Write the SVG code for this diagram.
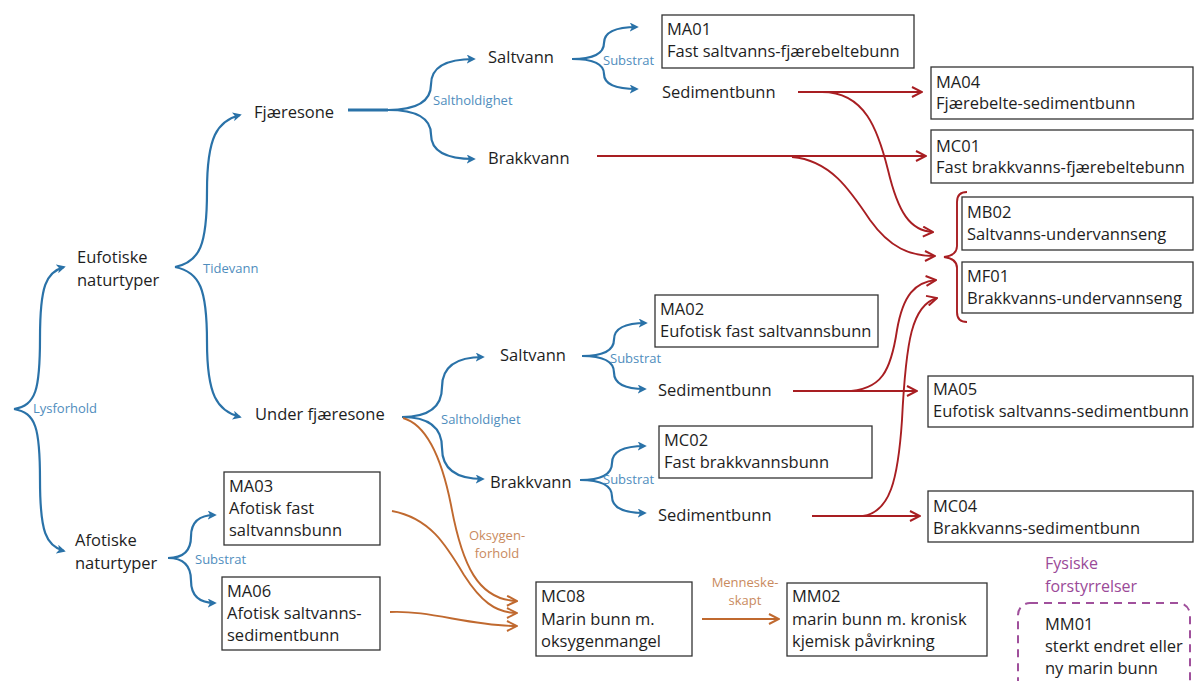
<svg xmlns="http://www.w3.org/2000/svg" width="1195" height="681" viewBox="0 0 1195 681">
<defs>
<style>
.t{font-family:"Open Sans","Liberation Sans",sans-serif;font-size:16.5px;fill:#1e1e1e}
.lb{font-family:"Open Sans","Liberation Sans",sans-serif;font-size:13px;fill:#4f8dbd}
.lo{font-family:"Open Sans","Liberation Sans",sans-serif;font-size:13px;fill:#c98a5e}
.lp{font-family:"Open Sans","Liberation Sans",sans-serif;font-size:16px;fill:#9a4a98}
.box{fill:#fff;stroke:#333;stroke-width:1.3}
.b{fill:none;stroke:#2a72a8;stroke-width:2.2;marker-end:url(#ab)}
.bn{fill:none;stroke:#2a72a8;stroke-width:2.2}
.r{fill:none;stroke:#a81e22;stroke-width:1.9;marker-end:url(#ar)}
.rn{fill:none;stroke:#a81e22;stroke-width:1.9}
.o{fill:none;stroke:#c0692f;stroke-width:1.9;marker-end:url(#ao)}
</style>
<marker id="ab" viewBox="0 0 10 10" refX="8" refY="5" markerWidth="9" markerHeight="9" markerUnits="userSpaceOnUse" orient="auto"><path d="M0,0 L10,5 L0,10 L2.5,5 Z" fill="#2a72a8"/></marker>
<marker id="ar" viewBox="0 0 12 12" refX="11" refY="6" markerWidth="12" markerHeight="12" markerUnits="userSpaceOnUse" orient="auto"><path d="M1,1 L11,6 L1,11" fill="none" stroke="#a81e22" stroke-width="2"/></marker>
<marker id="ao" viewBox="0 0 12 12" refX="11" refY="6" markerWidth="12" markerHeight="12" markerUnits="userSpaceOnUse" orient="auto"><path d="M1,1 L11,6 L1,11" fill="none" stroke="#c0692f" stroke-width="2"/></marker>
</defs>
<rect width="1195" height="681" fill="#fff"/>

<g id="connectors">
<path class="b" d="M14,409 C36,405 40,390 40,338 C40,286 46,272 64,267"/>
<path class="b" d="M14,409 C36,413 40,428 40,480 C40,532 46,546 64,551"/>
<path class="b" d="M175,267 C200,262 207,245 207,191 C207,137 217,121 240,115"/>
<path class="b" d="M175,267 C200,272 207,289 207,342 C207,395 217,411 240,417"/>
<path class="bn" d="M348,110 L388,110" style="stroke-width:3"/>
<path class="b" d="M388,110 Q431,110 431,84.5 T474,59"/>
<path class="b" d="M388,110 Q431,110 431,134.5 T474,159"/>
<path class="b" d="M572,59 Q604,59 604,43 T637,27"/>
<path class="b" d="M572,59 Q604,59 604,74 T637,89"/>
<path class="b" d="M402,417 Q442,417 442,387 T483,357"/>
<path class="b" d="M402,417 Q442,417 442,448 T483,479"/>
<path class="b" d="M582,356 Q614,356 614,339.5 T646,323"/>
<path class="b" d="M582,356 Q614,356 614,372.5 T645,389"/>
<path class="b" d="M580,480 Q612,480 612,463 T645,446"/>
<path class="b" d="M580,480 Q612,480 612,496.5 T645,513"/>
<path class="b" d="M168,558 Q191,558 191,536.5 T215,515"/>
<path class="b" d="M168,558 Q191,558 191,580.5 T215,603"/>
<path class="r" d="M798,92 L922,92"/>
<path class="r" d="M822,92 C865,92 878,130 888,170 C898,212 910,231 933,232"/>
<path class="r" d="M597,156 L926,156"/>
<path class="r" d="M792,157 C830,160 850,190 870,220 C890,248 910,256 935,256"/>
<path class="r" d="M793,391 L917,391"/>
<path class="r" d="M845,391 C882,391 891,370 897,330 C903,295 915,282 936,280"/>
<path class="r" d="M812,516 L920,516"/>
<path class="r" d="M863,516 C890,512 898,480 902,420 C906,340 912,305 937,298"/>
<path class="rn" d="M967,192 C960,192 957,196 957,202 L957,246 C957,252 952,256 944,257 C952,258 957,262 957,268 L957,312 C957,318 960,322 967,322"/>
<path class="o" d="M403,418 C428,425 442,460 451,505 C462,565 478,600 517,601"/>
<path class="o" d="M392,511 C430,518 446,545 464,575 C480,600 495,613 517,613"/>
<path class="o" d="M390,612 C430,610 470,626 517,626"/>
<path class="o" d="M702,619 L779,619"/>
</g>

<g id="labels">
<text class="lb" x="33" y="413">Lysforhold</text>
<text class="lb" x="203" y="273">Tidevann</text>
<text class="lb" x="433" y="105">Saltholdighet</text>
<text class="lb" x="603" y="65">Substrat</text>
<text class="lb" x="441" y="424">Saltholdighet</text>
<text class="lb" x="610" y="363">Substrat</text>
<text class="lb" x="603" y="484">Substrat</text>
<text class="lb" x="195" y="564">Substrat</text>
<text class="lo" x="497" y="540" text-anchor="middle">Oksygen-</text>
<text class="lo" x="497" y="558" text-anchor="middle">forhold</text>
<text class="lo" x="745" y="587" text-anchor="middle">Menneske-</text>
<text class="lo" x="745" y="605" text-anchor="middle">skapt</text>
</g>

<g id="eufotiske"><text class="t" x="77" y="263">Eufotiske</text><text class="t" x="77" y="286">naturtyper</text></g>
<g id="afotiske"><text class="t" x="75" y="546">Afotiske</text><text class="t" x="75" y="569">naturtyper</text></g>
<g id="fjaeresone"><text class="t" x="254" y="118">Fjæresone</text></g>
<g id="under-fjaeresone"><text class="t" x="255" y="420">Under fjæresone</text></g>
<g id="saltvann-1"><text class="t" x="488" y="63">Saltvann</text></g>
<g id="brakkvann-1"><text class="t" x="488" y="164">Brakkvann</text></g>
<g id="sediment-1"><text class="t" x="662" y="98">Sedimentbunn</text></g>
<g id="saltvann-2"><text class="t" x="500" y="361">Saltvann</text></g>
<g id="brakkvann-2"><text class="t" x="490" y="488">Brakkvann</text></g>
<g id="sediment-2"><text class="t" x="658" y="396">Sedimentbunn</text></g>
<g id="sediment-3"><text class="t" x="658" y="521">Sedimentbunn</text></g>

<g id="MA01"><rect class="box" x="662" y="15" width="252" height="53"/><text class="t" x="667" y="35">MA01</text><text class="t" x="667" y="57">Fast saltvanns-fjærebeltebunn</text></g>
<g id="MA04"><rect class="box" x="931" y="67" width="262" height="52"/><text class="t" x="936" y="88">MA04</text><text class="t" x="936" y="109">Fjærebelte-sedimentbunn</text></g>
<g id="MC01"><rect class="box" x="931" y="130" width="262" height="53"/><text class="t" x="936" y="152">MC01</text><text class="t" x="936" y="173">Fast brakkvanns-fjærebeltebunn</text></g>
<g id="MB02"><rect class="box" x="962" y="197" width="231" height="53"/><text class="t" x="967" y="218">MB02</text><text class="t" x="967" y="240">Saltvanns-undervannseng</text></g>
<g id="MF01"><rect class="box" x="962" y="262" width="231" height="51"/><text class="t" x="967" y="282">MF01</text><text class="t" x="967" y="304">Brakkvanns-undervannseng</text></g>
<g id="MA02"><rect class="box" x="655" y="295" width="223" height="52"/><text class="t" x="660" y="315">MA02</text><text class="t" x="660" y="337">Eufotisk fast saltvannsbunn</text></g>
<g id="MC02"><rect class="box" x="659" y="426" width="213" height="52"/><text class="t" x="664" y="446">MC02</text><text class="t" x="664" y="468">Fast brakkvannsbunn</text></g>
<g id="MA05"><rect class="box" x="928" y="376" width="265" height="51"/><text class="t" x="933" y="395">MA05</text><text class="t" x="933" y="417">Eufotisk saltvanns-sedimentbunn</text></g>
<g id="MC04"><rect class="box" x="928" y="491" width="265" height="51"/><text class="t" x="933" y="512">MC04</text><text class="t" x="933" y="534">Brakkvanns-sedimentbunn</text></g>
<g id="MA03"><rect class="box" x="224" y="472" width="156" height="73"/><text class="t" x="229" y="492">MA03</text><text class="t" x="229" y="514">Afotisk fast</text><text class="t" x="229" y="536">saltvannsbunn</text></g>
<g id="MA06"><rect class="box" x="222" y="577" width="158" height="73"/><text class="t" x="227" y="597">MA06</text><text class="t" x="227" y="619">Afotisk saltvanns-</text><text class="t" x="227" y="641">sedimentbunn</text></g>
<g id="MC08"><rect class="box" x="536" y="582" width="156" height="74"/><text class="t" x="541" y="602">MC08</text><text class="t" x="541" y="625">Marin bunn m.</text><text class="t" x="541" y="647">oksygenmangel</text></g>
<g id="MM02"><rect class="box" x="787" y="583" width="200" height="73"/><text class="t" x="792" y="602">MM02</text><text class="t" x="792" y="625">marin bunn m. kronisk</text><text class="t" x="792" y="647">kjemisk påvirkning</text></g>
<g id="MM01"><text class="lp" x="1045" y="569">Fysiske</text><text class="lp" x="1045" y="592">forstyrrelser</text><rect x="1018" y="603" width="172" height="100" rx="12" fill="none" stroke="#a0509c" stroke-width="2" stroke-dasharray="8,6"/><text class="t" x="1045" y="630">MM01</text><text class="t" x="1045" y="652">sterkt endret eller</text><text class="t" x="1045" y="674">ny marin bunn</text></g>
</svg>
